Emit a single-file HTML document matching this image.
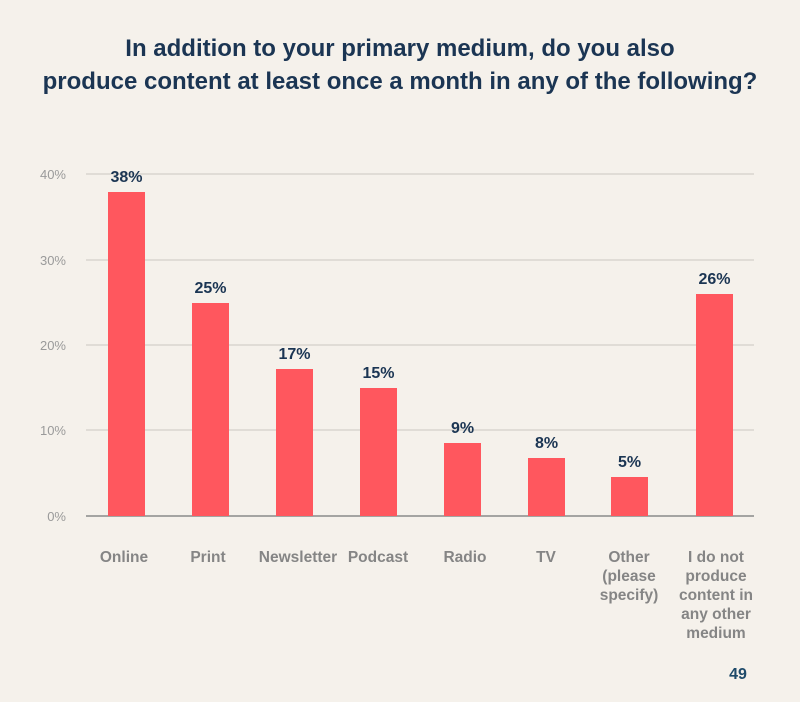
<!DOCTYPE html>
<html><head><meta charset="utf-8"><style>
html,body{margin:0;padding:0;background:#f5f1eb;}
svg{display:block;}
</style></head><body>
<svg width="800" height="702" xmlns="http://www.w3.org/2000/svg" font-family="Liberation Sans, sans-serif">
<rect width="800" height="702" fill="#f5f1eb"/>
<g font-weight="bold" font-size="24" fill="#1b3553" text-anchor="middle">
<text x="400" y="56">In addition to your primary medium, do you also</text>
<text x="400" y="89">produce content at least once a month in any of the following?</text>
</g>
<g stroke="#d9d5d0" stroke-width="1.5">
<line x1="86" y1="174" x2="754" y2="174"/>
<line x1="86" y1="260" x2="754" y2="260"/>
<line x1="86" y1="345" x2="754" y2="345"/>
<line x1="86" y1="430" x2="754" y2="430"/>
</g>
<line x1="86" y1="516" x2="754" y2="516" stroke="#8a8a8a" stroke-width="1.5"/>
<g font-size="13" fill="#9a9a9a" text-anchor="end">
<text x="66" y="179">40%</text>
<text x="66" y="265">30%</text>
<text x="66" y="350">20%</text>
<text x="66" y="435">10%</text>
<text x="66" y="521">0%</text>
</g>
<g fill="#ff575e">
<rect x="108" y="192" width="37" height="324"/>
<rect x="192" y="303" width="37" height="213"/>
<rect x="276" y="369" width="37" height="147"/>
<rect x="360" y="388" width="37" height="128"/>
<rect x="444" y="443" width="37" height="73"/>
<rect x="528" y="458" width="37" height="58"/>
<rect x="611" y="477" width="37" height="39"/>
<rect x="696" y="294" width="37" height="222"/>
</g>
<g font-weight="bold" font-size="16" fill="#1b3553" text-anchor="middle">
<text x="126.5" y="182">38%</text>
<text x="210.5" y="293">25%</text>
<text x="294.5" y="359">17%</text>
<text x="378.5" y="378">15%</text>
<text x="462.5" y="433">9%</text>
<text x="546.5" y="448">8%</text>
<text x="629.5" y="467">5%</text>
<text x="714.5" y="284">26%</text>
</g>
<g font-weight="bold" font-size="15.5" fill="#858585" text-anchor="middle">
<text x="124" y="562">Online</text>
<text x="208" y="562">Print</text>
<text x="298" y="562">Newsletter</text>
<text x="378" y="562">Podcast</text>
<text x="465" y="562">Radio</text>
<text x="546" y="562">TV</text>
<text x="629" y="562">Other</text>
<text x="629" y="581">(please</text>
<text x="629" y="600">specify)</text>
<text x="716" y="562">I do not</text>
<text x="716" y="581">produce</text>
<text x="716" y="600">content in</text>
<text x="716" y="619">any other</text>
<text x="716" y="638">medium</text>
</g>
<text x="738" y="679" font-size="16" font-weight="bold" fill="#1e4a6a" text-anchor="middle">49</text>
</svg>
</body></html>
